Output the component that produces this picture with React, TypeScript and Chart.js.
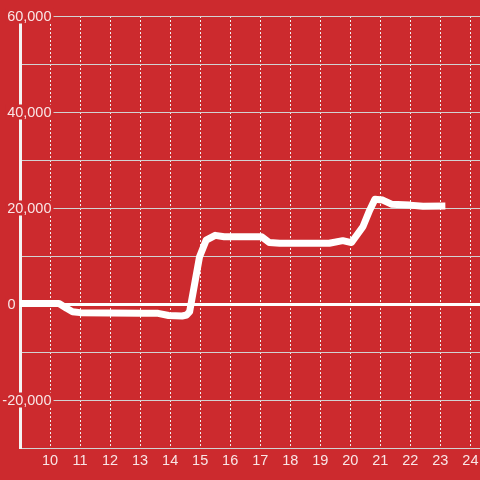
import React, { useEffect, useRef } from "react";
import { Chart, registerables } from "chart.js";

Chart.register(...registerables);

// Time of day (hours) and value
const hours = [
  9.0, 10.3, 10.55, 10.75, 11.0, 12.0, 13.0, 13.6, 13.95, 14.4, 14.55, 14.65,
  14.98, 15.2, 15.5, 15.8, 16.5, 17.05, 17.3, 17.65, 18.5, 19.3, 19.75, 20.04,
  20.42, 20.65, 20.82, 21.08, 21.37, 21.98, 22.42, 23.05,
];
const values = [
  100, 100, -900, -1600, -1800, -1900, -1950, -1950, -2400, -2500, -2300, -1600,
  9850, 13300, 14300, 14000, 14000, 14000, 12800, 12650, 12650, 12650, 13200, 12800,
  16100, 19600, 21800, 21650, 20800, 20600, 20350, 20400,
];

const yLabelValues = [60000, 40000, 20000, 0, -20000];
const yLabelTexts = ["60,000", "40,000", "20,000", "0", "-20,000"];

const X_MIN = 9;
const X_MAX = 24.32;
const Y_MIN = -30000;
const Y_MAX = 60000;

const BG = "#cc2a2e";
const TEXT = "rgba(255,255,255,0.88)";
const GRID = "#d2d2d2";
const FONT = '14.5px "Liberation Sans", Arial, sans-serif';

const yLabelPlugin = {
  id: "yLabels",
  beforeDatasetsDraw(chart: any) {
    const { ctx } = chart;
    const y = chart.scales.y;
    ctx.save();
    ctx.font = FONT;
    ctx.textBaseline = "middle";
    ctx.textAlign = "right";
    yLabelValues.forEach((v, i) => {
      const py = y.getPixelForValue(v);
      const text = yLabelTexts[i];
      const right = v === 0 ? 15.5 : 51.5;
      const w = ctx.measureText(text).width;
      ctx.fillStyle = BG;
      ctx.fillRect(right - w - 2, py - 7.5, w + 4, 15);
      ctx.fillStyle = TEXT;
      ctx.fillText(text, right, py + 0.5);
    });
    ctx.restore();
  },
};

export default function App() {
  const ref = useRef<HTMLCanvasElement | null>(null);

  useEffect(() => {
    if (!ref.current) return;
    const chart = new Chart(ref.current, {
      type: "line",
      data: {
        datasets: [
          {
            data: hours.map((h, i) => ({ x: h, y: values[i] })),
            borderColor: "#ffffff",
            borderWidth: 7,
            pointRadius: 0,
            tension: 0,
            fill: false,
            borderJoinStyle: "round",
            borderCapStyle: "square",
          },
        ],
      },
      options: {
        responsive: false,
        animation: false,
        layout: { padding: { top: 16, left: 20, right: 0, bottom: 0 } },
        plugins: {
          legend: { display: false },
          tooltip: { enabled: false },
        },
        scales: {
          x: {
            type: "linear",
            min: X_MIN,
            max: X_MAX,
            afterFit: (s: any) => {
              s.height = 32;
              s.paddingLeft = 0;
              s.paddingRight = 0;
            },
            grid: {
              color: "#f0f0f0",
              lineWidth: 1,
              drawTicks: false,
            },
            border: { display: true, color: GRID, width: 1, dash: [2, 2] },
            ticks: {
              stepSize: 1,
              includeBounds: false,
              autoSkip: false,
              maxRotation: 0,
              padding: 4,
              color: TEXT,
              font: { family: '"Liberation Sans", Arial, sans-serif', size: 14.5 },
              callback: (v: any) => (v === 9 ? "" : String(v)),
            },
          },
          y: {
            type: "linear",
            min: Y_MIN,
            max: Y_MAX,
            afterFit: (s: any) => {
              s.width = 0;
              s.paddingTop = 0;
              s.paddingBottom = 0;
            },
            grid: {
              drawTicks: false,
              color: (c: any) => (c.tick && c.tick.value === 0 ? "#ffffff" : GRID),
              lineWidth: (c: any) => (c.tick && c.tick.value === 0 ? 3 : 1),
            },
            border: { display: true, color: "#f4f4f4", width: 3 },
            ticks: { stepSize: 10000, display: false },
          },
        },
      },
      plugins: [yLabelPlugin],
    });
    return () => chart.destroy();
  }, []);

  return (
    <canvas
      ref={ref}
      width={480}
      height={480}
      style={{
        position: "fixed",
        left: 0,
        top: 0,
        width: 480,
        height: 480,
        background: BG,
        display: "block",
      }}
    />
  );
}
